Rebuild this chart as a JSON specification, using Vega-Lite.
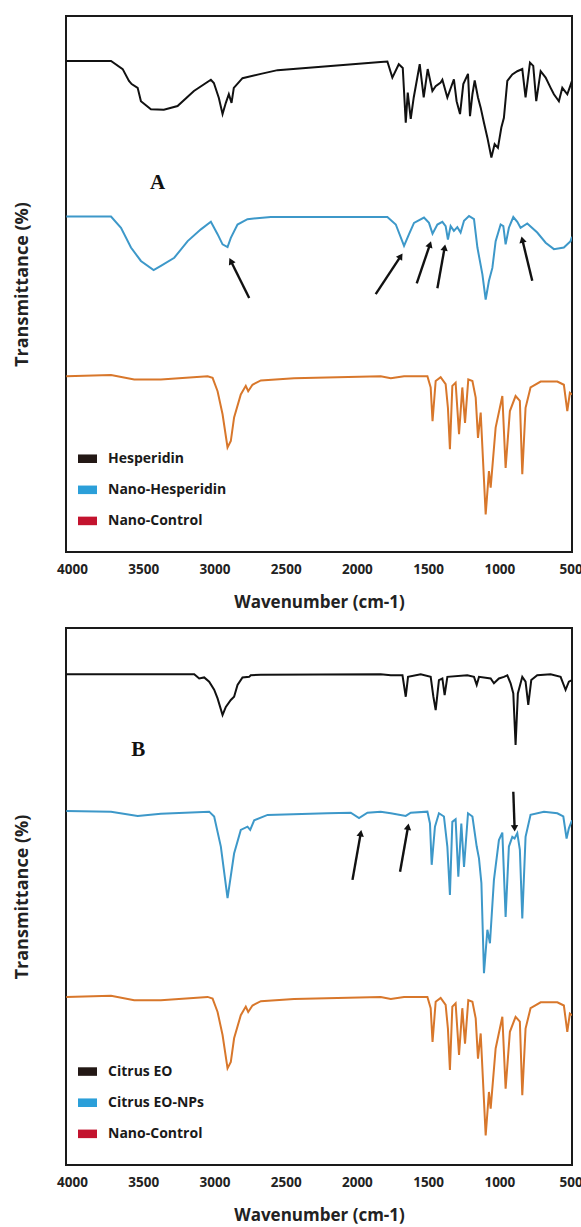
{
 "$schema": "https://vega.github.io/schema/vega-lite/v6.json",
 "padding": {"left": 12, "top": 15, "right": 8, "bottom": 0},
 "autosize": {"type": "pad"},
 "spacing": 15,
 "config": {
  "view": {"stroke": "#1a1a1a", "strokeWidth": 2},
  "font": "Open Sans",
  "axisX": {"labelFont": "Open Sans", "labelFontWeight": "bold", "labelFontSize": 13.5, "labelColor": "#222", "labelPadding": 10, "labelFlush": false, "labelOverlap": false, "ticks": false, "domain": false, "grid": false, "titleFont": "Open Sans", "titleFontWeight": "bold", "titleFontSize": 17, "titleColor": "#222", "titlePadding": 19},
  "axisY": {"labels": false, "ticks": false, "domain": false, "grid": false, "titleFont": "Open Sans", "titleFontWeight": "bold", "titleFontSize": 18, "titleColor": "#222", "titlePadding": 35}
 },
 "datasets": {
  "spectra": [
   {"panel":"A","series":"Hesperidin","w":4040,"t":91.6},{"panel":"A","series":"Hesperidin","w":3726,"t":91.6},{"panel":"A","series":"Hesperidin","w":3644,"t":90.1},{"panel":"A","series":"Hesperidin","w":3600,"t":87.9},{"panel":"A","series":"Hesperidin","w":3581,"t":87.3},{"panel":"A","series":"Hesperidin","w":3539,"t":86.6},{"panel":"A","series":"Hesperidin","w":3516,"t":84.1},{"panel":"A","series":"Hesperidin","w":3446,"t":82.6},{"panel":"A","series":"Hesperidin","w":3355,"t":82.5},{"panel":"A","series":"Hesperidin","w":3259,"t":83.2},{"panel":"A","series":"Hesperidin","w":3144,"t":86.0},{"panel":"A","series":"Hesperidin","w":3025,"t":88.1},{"panel":"A","series":"Hesperidin","w":3004,"t":87.5},{"panel":"A","series":"Hesperidin","w":2969,"t":84.7},{"panel":"A","series":"Hesperidin","w":2943,"t":81.7},{"panel":"A","series":"Hesperidin","w":2920,"t":83.8},{"panel":"A","series":"Hesperidin","w":2899,"t":85.4},{"panel":"A","series":"Hesperidin","w":2880,"t":83.8},{"panel":"A","series":"Hesperidin","w":2864,"t":86.6},{"panel":"A","series":"Hesperidin","w":2803,"t":88.4},{"panel":"A","series":"Hesperidin","w":2674,"t":89.2},{"panel":"A","series":"Hesperidin","w":2557,"t":89.9},{"panel":"A","series":"Hesperidin","w":1833,"t":91.4},{"panel":"A","series":"Hesperidin","w":1786,"t":91.5},{"panel":"A","series":"Hesperidin","w":1751,"t":88.5},{"panel":"A","series":"Hesperidin","w":1706,"t":91.0},{"panel":"A","series":"Hesperidin","w":1678,"t":90.3},{"panel":"A","series":"Hesperidin","w":1657,"t":80.1},{"panel":"A","series":"Hesperidin","w":1643,"t":85.7},{"panel":"A","series":"Hesperidin","w":1622,"t":80.8},{"panel":"A","series":"Hesperidin","w":1601,"t":84.8},{"panel":"A","series":"Hesperidin","w":1559,"t":91.0},{"panel":"A","series":"Hesperidin","w":1531,"t":84.8},{"panel":"A","series":"Hesperidin","w":1503,"t":90.1},{"panel":"A","series":"Hesperidin","w":1470,"t":86.0},{"panel":"A","series":"Hesperidin","w":1447,"t":86.9},{"panel":"A","series":"Hesperidin","w":1412,"t":87.6},{"panel":"A","series":"Hesperidin","w":1400,"t":88.1},{"panel":"A","series":"Hesperidin","w":1365,"t":84.8},{"panel":"A","series":"Hesperidin","w":1319,"t":88.2},{"panel":"A","series":"Hesperidin","w":1300,"t":84.1},{"panel":"A","series":"Hesperidin","w":1276,"t":81.7},{"panel":"A","series":"Hesperidin","w":1253,"t":87.3},{"panel":"A","series":"Hesperidin","w":1220,"t":89.2},{"panel":"A","series":"Hesperidin","w":1206,"t":81.3},{"panel":"A","series":"Hesperidin","w":1189,"t":85.4},{"panel":"A","series":"Hesperidin","w":1173,"t":88.0},{"panel":"A","series":"Hesperidin","w":1150,"t":84.8},{"panel":"A","series":"Hesperidin","w":1131,"t":82.9},{"panel":"A","series":"Hesperidin","w":1108,"t":80.1},{"panel":"A","series":"Hesperidin","w":1084,"t":77.3},{"panel":"A","series":"Hesperidin","w":1056,"t":73.6},{"panel":"A","series":"Hesperidin","w":1033,"t":76.1},{"panel":"A","series":"Hesperidin","w":1010,"t":75.4},{"panel":"A","series":"Hesperidin","w":986,"t":79.2},{"panel":"A","series":"Hesperidin","w":968,"t":81.0},{"panel":"A","series":"Hesperidin","w":944,"t":87.9},{"panel":"A","series":"Hesperidin","w":909,"t":89.1},{"panel":"A","series":"Hesperidin","w":874,"t":89.7},{"panel":"A","series":"Hesperidin","w":839,"t":90.1},{"panel":"A","series":"Hesperidin","w":816,"t":84.8},{"panel":"A","series":"Hesperidin","w":785,"t":91.3},{"panel":"A","series":"Hesperidin","w":762,"t":90.7},{"panel":"A","series":"Hesperidin","w":741,"t":84.1},{"panel":"A","series":"Hesperidin","w":710,"t":89.7},{"panel":"A","series":"Hesperidin","w":675,"t":88.5},{"panel":"A","series":"Hesperidin","w":640,"t":86.6},{"panel":"A","series":"Hesperidin","w":617,"t":85.4},{"panel":"A","series":"Hesperidin","w":582,"t":84.1},{"panel":"A","series":"Hesperidin","w":558,"t":86.6},{"panel":"A","series":"Hesperidin","w":523,"t":85.4},{"panel":"A","series":"Hesperidin","w":490,"t":87.9},

   {"panel":"A","series":"Nano-Hesperidin","w":4040,"t":62.6},{"panel":"A","series":"Nano-Hesperidin","w":3726,"t":62.6},{"panel":"A","series":"Nano-Hesperidin","w":3656,"t":60.5},{"panel":"A","series":"Nano-Hesperidin","w":3586,"t":56.8},{"panel":"A","series":"Nano-Hesperidin","w":3516,"t":54.3},{"panel":"A","series":"Nano-Hesperidin","w":3427,"t":52.6},{"panel":"A","series":"Nano-Hesperidin","w":3376,"t":53.4},{"panel":"A","series":"Nano-Hesperidin","w":3282,"t":54.9},{"panel":"A","series":"Nano-Hesperidin","w":3188,"t":58.0},{"panel":"A","series":"Nano-Hesperidin","w":3095,"t":60.2},{"panel":"A","series":"Nano-Hesperidin","w":3025,"t":61.6},{"panel":"A","series":"Nano-Hesperidin","w":2978,"t":59.3},{"panel":"A","series":"Nano-Hesperidin","w":2943,"t":57.4},{"panel":"A","series":"Nano-Hesperidin","w":2908,"t":56.9},{"panel":"A","series":"Nano-Hesperidin","w":2885,"t":58.6},{"panel":"A","series":"Nano-Hesperidin","w":2838,"t":61.1},{"panel":"A","series":"Nano-Hesperidin","w":2768,"t":62.1},{"panel":"A","series":"Nano-Hesperidin","w":2604,"t":62.5},{"panel":"A","series":"Nano-Hesperidin","w":1786,"t":62.5},{"panel":"A","series":"Nano-Hesperidin","w":1727,"t":61.1},{"panel":"A","series":"Nano-Hesperidin","w":1669,"t":57.1},{"panel":"A","series":"Nano-Hesperidin","w":1634,"t":59.3},{"panel":"A","series":"Nano-Hesperidin","w":1599,"t":61.4},{"panel":"A","series":"Nano-Hesperidin","w":1529,"t":62.4},{"panel":"A","series":"Nano-Hesperidin","w":1494,"t":61.4},{"panel":"A","series":"Nano-Hesperidin","w":1469,"t":59.4},{"panel":"A","series":"Nano-Hesperidin","w":1435,"t":61.1},{"panel":"A","series":"Nano-Hesperidin","w":1400,"t":61.6},{"panel":"A","series":"Nano-Hesperidin","w":1377,"t":60.8},{"panel":"A","series":"Nano-Hesperidin","w":1361,"t":58.3},{"panel":"A","series":"Nano-Hesperidin","w":1342,"t":60.8},{"panel":"A","series":"Nano-Hesperidin","w":1319,"t":59.9},{"panel":"A","series":"Nano-Hesperidin","w":1295,"t":60.6},{"panel":"A","series":"Nano-Hesperidin","w":1272,"t":59.6},{"panel":"A","series":"Nano-Hesperidin","w":1248,"t":61.8},{"panel":"A","series":"Nano-Hesperidin","w":1213,"t":62.7},{"panel":"A","series":"Nano-Hesperidin","w":1178,"t":62.1},{"panel":"A","series":"Nano-Hesperidin","w":1154,"t":56.8},{"panel":"A","series":"Nano-Hesperidin","w":1119,"t":51.8},{"panel":"A","series":"Nano-Hesperidin","w":1096,"t":47.1},{"panel":"A","series":"Nano-Hesperidin","w":1073,"t":50.6},{"panel":"A","series":"Nano-Hesperidin","w":1049,"t":53.0},{"panel":"A","series":"Nano-Hesperidin","w":1026,"t":58.0},{"panel":"A","series":"Nano-Hesperidin","w":991,"t":61.1},{"panel":"A","series":"Nano-Hesperidin","w":972,"t":60.8},{"panel":"A","series":"Nano-Hesperidin","w":956,"t":57.4},{"panel":"A","series":"Nano-Hesperidin","w":933,"t":60.5},{"panel":"A","series":"Nano-Hesperidin","w":902,"t":62.5},{"panel":"A","series":"Nano-Hesperidin","w":874,"t":61.6},{"panel":"A","series":"Nano-Hesperidin","w":851,"t":60.5},{"panel":"A","series":"Nano-Hesperidin","w":804,"t":61.3},{"panel":"A","series":"Nano-Hesperidin","w":734,"t":59.6},{"panel":"A","series":"Nano-Hesperidin","w":675,"t":57.7},{"panel":"A","series":"Nano-Hesperidin","w":617,"t":56.5},{"panel":"A","series":"Nano-Hesperidin","w":547,"t":56.8},{"panel":"A","series":"Nano-Hesperidin","w":500,"t":58.0},{"panel":"A","series":"Nano-Hesperidin","w":490,"t":58.8},

   {"panel":"A","series":"Nano-Control","w":4040,"t":32.8},{"panel":"A","series":"Nano-Control","w":3726,"t":33.0},{"panel":"A","series":"Nano-Control","w":3563,"t":32.2},{"panel":"A","series":"Nano-Control","w":3376,"t":32.2},{"panel":"A","series":"Nano-Control","w":3048,"t":32.8},{"panel":"A","series":"Nano-Control","w":3013,"t":32.5},{"panel":"A","series":"Nano-Control","w":2978,"t":30.0},{"panel":"A","series":"Nano-Control","w":2943,"t":25.7},{"panel":"A","series":"Nano-Control","w":2908,"t":19.5},{"panel":"A","series":"Nano-Control","w":2885,"t":20.7},{"panel":"A","series":"Nano-Control","w":2862,"t":25.1},{"panel":"A","series":"Nano-Control","w":2815,"t":29.4},{"panel":"A","series":"Nano-Control","w":2780,"t":31.0},{"panel":"A","series":"Nano-Control","w":2763,"t":30.0},{"panel":"A","series":"Nano-Control","w":2733,"t":31.2},{"panel":"A","series":"Nano-Control","w":2674,"t":32.0},{"panel":"A","series":"Nano-Control","w":2441,"t":32.4},{"panel":"A","series":"Nano-Control","w":1833,"t":32.8},{"panel":"A","series":"Nano-Control","w":1762,"t":32.4},{"panel":"A","series":"Nano-Control","w":1669,"t":32.8},{"panel":"A","series":"Nano-Control","w":1505,"t":32.8},{"panel":"A","series":"Nano-Control","w":1482,"t":30.7},{"panel":"A","series":"Nano-Control","w":1469,"t":24.4},{"panel":"A","series":"Nano-Control","w":1447,"t":31.9},{"panel":"A","series":"Nano-Control","w":1412,"t":32.6},{"panel":"A","series":"Nano-Control","w":1377,"t":31.3},{"panel":"A","series":"Nano-Control","w":1361,"t":26.9},{"panel":"A","series":"Nano-Control","w":1347,"t":19.2},{"panel":"A","series":"Nano-Control","w":1330,"t":31.0},{"panel":"A","series":"Nano-Control","w":1307,"t":31.6},{"panel":"A","series":"Nano-Control","w":1283,"t":22.0},{"panel":"A","series":"Nano-Control","w":1260,"t":30.7},{"panel":"A","series":"Nano-Control","w":1241,"t":24.1},{"panel":"A","series":"Nano-Control","w":1218,"t":32.2},{"panel":"A","series":"Nano-Control","w":1189,"t":31.9},{"panel":"A","series":"Nano-Control","w":1166,"t":28.8},{"panel":"A","series":"Nano-Control","w":1150,"t":21.3},{"panel":"A","series":"Nano-Control","w":1131,"t":26.0},{"panel":"A","series":"Nano-Control","w":1096,"t":7.0},{"panel":"A","series":"Nano-Control","w":1073,"t":15.1},{"panel":"A","series":"Nano-Control","w":1061,"t":12.0},{"panel":"A","series":"Nano-Control","w":1026,"t":23.2},{"panel":"A","series":"Nano-Control","w":979,"t":29.1},{"panel":"A","series":"Nano-Control","w":956,"t":15.7},{"panel":"A","series":"Nano-Control","w":926,"t":26.3},{"panel":"A","series":"Nano-Control","w":886,"t":29.1},{"panel":"A","series":"Nano-Control","w":856,"t":28.2},{"panel":"A","series":"Nano-Control","w":839,"t":14.5},{"panel":"A","series":"Nano-Control","w":816,"t":26.9},{"panel":"A","series":"Nano-Control","w":781,"t":30.7},{"panel":"A","series":"Nano-Control","w":710,"t":31.8},{"panel":"A","series":"Nano-Control","w":593,"t":31.8},{"panel":"A","series":"Nano-Control","w":547,"t":31.2},{"panel":"A","series":"Nano-Control","w":523,"t":26.3},{"panel":"A","series":"Nano-Control","w":505,"t":29.7},{"panel":"A","series":"Nano-Control","w":490,"t":29.4},

   {"panel":"B","series":"Citrus EO","w":4040,"t":91.4},{"panel":"B","series":"Citrus EO","w":3142,"t":91.4},{"panel":"B","series":"Citrus EO","w":3107,"t":90.6},{"panel":"B","series":"Citrus EO","w":3072,"t":90.8},{"panel":"B","series":"Citrus EO","w":3037,"t":90.0},{"panel":"B","series":"Citrus EO","w":3002,"t":88.5},{"panel":"B","series":"Citrus EO","w":2978,"t":86.9},{"panel":"B","series":"Citrus EO","w":2943,"t":83.8},{"panel":"B","series":"Citrus EO","w":2920,"t":85.3},{"panel":"B","series":"Citrus EO","w":2885,"t":86.6},{"panel":"B","series":"Citrus EO","w":2862,"t":87.2},{"panel":"B","series":"Citrus EO","w":2838,"t":89.4},{"panel":"B","series":"Citrus EO","w":2803,"t":90.8},{"panel":"B","series":"Citrus EO","w":2756,"t":90.9},{"panel":"B","series":"Citrus EO","w":2745,"t":91.2},{"panel":"B","series":"Citrus EO","w":2674,"t":91.3},{"panel":"B","series":"Citrus EO","w":1833,"t":91.4},{"panel":"B","series":"Citrus EO","w":1762,"t":91.2},{"panel":"B","series":"Citrus EO","w":1680,"t":91.2},{"panel":"B","series":"Citrus EO","w":1657,"t":87.2},{"panel":"B","series":"Citrus EO","w":1641,"t":90.9},{"panel":"B","series":"Citrus EO","w":1552,"t":91.4},{"panel":"B","series":"Citrus EO","w":1482,"t":90.9},{"panel":"B","series":"Citrus EO","w":1463,"t":87.2},{"panel":"B","series":"Citrus EO","w":1447,"t":84.7},{"panel":"B","series":"Citrus EO","w":1424,"t":90.3},{"panel":"B","series":"Citrus EO","w":1400,"t":90.6},{"panel":"B","series":"Citrus EO","w":1384,"t":87.5},{"panel":"B","series":"Citrus EO","w":1365,"t":90.9},{"panel":"B","series":"Citrus EO","w":1225,"t":91.2},{"panel":"B","series":"Citrus EO","w":1178,"t":90.9},{"panel":"B","series":"Citrus EO","w":1159,"t":89.4},{"panel":"B","series":"Citrus EO","w":1143,"t":90.9},{"panel":"B","series":"Citrus EO","w":1061,"t":90.6},{"panel":"B","series":"Citrus EO","w":1038,"t":89.7},{"panel":"B","series":"Citrus EO","w":1003,"t":90.6},{"panel":"B","series":"Citrus EO","w":968,"t":90.9},{"panel":"B","series":"Citrus EO","w":944,"t":91.2},{"panel":"B","series":"Citrus EO","w":921,"t":89.7},{"panel":"B","series":"Citrus EO","w":902,"t":87.8},{"panel":"B","series":"Citrus EO","w":886,"t":78.2},{"panel":"B","series":"Citrus EO","w":870,"t":87.8},{"panel":"B","series":"Citrus EO","w":839,"t":90.9},{"panel":"B","series":"Citrus EO","w":816,"t":90.0},{"panel":"B","series":"Citrus EO","w":797,"t":85.7},{"panel":"B","series":"Citrus EO","w":776,"t":90.3},{"panel":"B","series":"Citrus EO","w":734,"t":91.2},{"panel":"B","series":"Citrus EO","w":640,"t":91.4},{"panel":"B","series":"Citrus EO","w":570,"t":90.9},{"panel":"B","series":"Citrus EO","w":535,"t":88.5},{"panel":"B","series":"Citrus EO","w":512,"t":90.0},{"panel":"B","series":"Citrus EO","w":490,"t":90.3},

   {"panel":"B","series":"Citrus EO-NPs","w":4040,"t":65.9},{"panel":"B","series":"Citrus EO-NPs","w":3726,"t":65.8},{"panel":"B","series":"Citrus EO-NPs","w":3539,"t":65.0},{"panel":"B","series":"Citrus EO-NPs","w":3376,"t":65.4},{"panel":"B","series":"Citrus EO-NPs","w":3037,"t":65.8},{"panel":"B","series":"Citrus EO-NPs","w":3002,"t":64.9},{"panel":"B","series":"Citrus EO-NPs","w":2955,"t":59.3},{"panel":"B","series":"Citrus EO-NPs","w":2908,"t":49.7},{"panel":"B","series":"Citrus EO-NPs","w":2862,"t":58.0},{"panel":"B","series":"Citrus EO-NPs","w":2815,"t":62.4},{"panel":"B","series":"Citrus EO-NPs","w":2768,"t":63.0},{"panel":"B","series":"Citrus EO-NPs","w":2749,"t":62.4},{"panel":"B","series":"Citrus EO-NPs","w":2721,"t":64.2},{"panel":"B","series":"Citrus EO-NPs","w":2627,"t":65.2},{"panel":"B","series":"Citrus EO-NPs","w":2207,"t":65.5},{"panel":"B","series":"Citrus EO-NPs","w":2043,"t":65.6},{"panel":"B","series":"Citrus EO-NPs","w":1985,"t":64.6},{"panel":"B","series":"Citrus EO-NPs","w":1926,"t":65.6},{"panel":"B","series":"Citrus EO-NPs","w":1833,"t":65.8},{"panel":"B","series":"Citrus EO-NPs","w":1762,"t":65.5},{"panel":"B","series":"Citrus EO-NPs","w":1657,"t":65.0},{"panel":"B","series":"Citrus EO-NPs","w":1622,"t":65.6},{"panel":"B","series":"Citrus EO-NPs","w":1505,"t":65.8},{"panel":"B","series":"Citrus EO-NPs","w":1487,"t":63.6},{"panel":"B","series":"Citrus EO-NPs","w":1475,"t":55.9},{"panel":"B","series":"Citrus EO-NPs","w":1452,"t":63.0},{"panel":"B","series":"Citrus EO-NPs","w":1424,"t":65.5},{"panel":"B","series":"Citrus EO-NPs","w":1389,"t":64.9},{"panel":"B","series":"Citrus EO-NPs","w":1365,"t":59.3},{"panel":"B","series":"Citrus EO-NPs","w":1347,"t":50.3},{"panel":"B","series":"Citrus EO-NPs","w":1330,"t":63.9},{"panel":"B","series":"Citrus EO-NPs","w":1307,"t":64.4},{"panel":"B","series":"Citrus EO-NPs","w":1288,"t":53.7},{"panel":"B","series":"Citrus EO-NPs","w":1267,"t":63.6},{"panel":"B","series":"Citrus EO-NPs","w":1248,"t":55.5},{"panel":"B","series":"Citrus EO-NPs","w":1220,"t":65.5},{"panel":"B","series":"Citrus EO-NPs","w":1189,"t":64.9},{"panel":"B","series":"Citrus EO-NPs","w":1159,"t":59.3},{"panel":"B","series":"Citrus EO-NPs","w":1143,"t":57.1},{"panel":"B","series":"Citrus EO-NPs","w":1126,"t":52.5},{"panel":"B","series":"Citrus EO-NPs","w":1108,"t":35.7},{"panel":"B","series":"Citrus EO-NPs","w":1084,"t":43.8},{"panel":"B","series":"Citrus EO-NPs","w":1066,"t":41.3},{"panel":"B","series":"Citrus EO-NPs","w":1038,"t":53.1},{"panel":"B","series":"Citrus EO-NPs","w":1003,"t":60.5},{"panel":"B","series":"Citrus EO-NPs","w":979,"t":61.9},{"panel":"B","series":"Citrus EO-NPs","w":956,"t":46.2},{"panel":"B","series":"Citrus EO-NPs","w":933,"t":59.3},{"panel":"B","series":"Citrus EO-NPs","w":909,"t":61.1},{"panel":"B","series":"Citrus EO-NPs","w":893,"t":60.8},{"panel":"B","series":"Citrus EO-NPs","w":874,"t":61.8},{"panel":"B","series":"Citrus EO-NPs","w":856,"t":58.7},{"panel":"B","series":"Citrus EO-NPs","w":839,"t":45.9},{"panel":"B","series":"Citrus EO-NPs","w":816,"t":61.1},{"panel":"B","series":"Citrus EO-NPs","w":781,"t":65.2},{"panel":"B","series":"Citrus EO-NPs","w":687,"t":65.8},{"panel":"B","series":"Citrus EO-NPs","w":593,"t":65.5},{"panel":"B","series":"Citrus EO-NPs","w":551,"t":64.9},{"panel":"B","series":"Citrus EO-NPs","w":528,"t":60.8},{"panel":"B","series":"Citrus EO-NPs","w":512,"t":62.7},{"panel":"B","series":"Citrus EO-NPs","w":490,"t":64.2},

   {"panel":"B","series":"Nano-Control","w":4040,"t":31.3},{"panel":"B","series":"Nano-Control","w":3726,"t":31.5},{"panel":"B","series":"Nano-Control","w":3563,"t":30.7},{"panel":"B","series":"Nano-Control","w":3376,"t":30.7},{"panel":"B","series":"Nano-Control","w":3048,"t":31.3},{"panel":"B","series":"Nano-Control","w":3013,"t":31.0},{"panel":"B","series":"Nano-Control","w":2978,"t":28.5},{"panel":"B","series":"Nano-Control","w":2943,"t":24.2},{"panel":"B","series":"Nano-Control","w":2908,"t":18.0},{"panel":"B","series":"Nano-Control","w":2885,"t":19.2},{"panel":"B","series":"Nano-Control","w":2862,"t":23.6},{"panel":"B","series":"Nano-Control","w":2815,"t":27.9},{"panel":"B","series":"Nano-Control","w":2780,"t":29.5},{"panel":"B","series":"Nano-Control","w":2763,"t":28.5},{"panel":"B","series":"Nano-Control","w":2733,"t":29.7},{"panel":"B","series":"Nano-Control","w":2674,"t":30.5},{"panel":"B","series":"Nano-Control","w":2441,"t":30.9},{"panel":"B","series":"Nano-Control","w":1833,"t":31.3},{"panel":"B","series":"Nano-Control","w":1762,"t":30.9},{"panel":"B","series":"Nano-Control","w":1669,"t":31.3},{"panel":"B","series":"Nano-Control","w":1505,"t":31.3},{"panel":"B","series":"Nano-Control","w":1482,"t":29.2},{"panel":"B","series":"Nano-Control","w":1469,"t":22.9},{"panel":"B","series":"Nano-Control","w":1447,"t":30.4},{"panel":"B","series":"Nano-Control","w":1412,"t":31.1},{"panel":"B","series":"Nano-Control","w":1377,"t":29.8},{"panel":"B","series":"Nano-Control","w":1361,"t":25.4},{"panel":"B","series":"Nano-Control","w":1347,"t":17.7},{"panel":"B","series":"Nano-Control","w":1330,"t":29.5},{"panel":"B","series":"Nano-Control","w":1307,"t":30.1},{"panel":"B","series":"Nano-Control","w":1283,"t":20.5},{"panel":"B","series":"Nano-Control","w":1260,"t":29.2},{"panel":"B","series":"Nano-Control","w":1241,"t":22.6},{"panel":"B","series":"Nano-Control","w":1218,"t":30.7},{"panel":"B","series":"Nano-Control","w":1189,"t":30.4},{"panel":"B","series":"Nano-Control","w":1166,"t":27.3},{"panel":"B","series":"Nano-Control","w":1150,"t":19.8},{"panel":"B","series":"Nano-Control","w":1131,"t":24.5},{"panel":"B","series":"Nano-Control","w":1096,"t":5.5},{"panel":"B","series":"Nano-Control","w":1073,"t":13.6},{"panel":"B","series":"Nano-Control","w":1061,"t":10.5},{"panel":"B","series":"Nano-Control","w":1026,"t":21.7},{"panel":"B","series":"Nano-Control","w":979,"t":27.6},{"panel":"B","series":"Nano-Control","w":956,"t":14.2},{"panel":"B","series":"Nano-Control","w":926,"t":24.8},{"panel":"B","series":"Nano-Control","w":886,"t":27.6},{"panel":"B","series":"Nano-Control","w":856,"t":26.7},{"panel":"B","series":"Nano-Control","w":839,"t":13.0},{"panel":"B","series":"Nano-Control","w":816,"t":25.4},{"panel":"B","series":"Nano-Control","w":781,"t":29.2},{"panel":"B","series":"Nano-Control","w":710,"t":30.3},{"panel":"B","series":"Nano-Control","w":593,"t":30.3},{"panel":"B","series":"Nano-Control","w":547,"t":29.7},{"panel":"B","series":"Nano-Control","w":523,"t":24.8},{"panel":"B","series":"Nano-Control","w":505,"t":28.2},{"panel":"B","series":"Nano-Control","w":490,"t":27.9}
  ],
  "arrows": [
   {"panel":"A","w0":2756,"t0":47.4,"w1":2885,"t1":54.3,"angle":333.5},
   {"panel":"A","w0":1868,"t0":48.1,"w1":1692,"t1":55.2,"angle":33},
   {"panel":"A","w0":1580,"t0":50.1,"w1":1487,"t1":57.4,"angle":18.6},
   {"panel":"A","w0":1435,"t0":49.2,"w1":1384,"t1":56.8,"angle":10.2},
   {"panel":"A","w0":769,"t0":50.6,"w1":839,"t1":58.3,"angle":346.5},
   {"panel":"B","w0":2031,"t0":53.1,"w1":1973,"t1":61.8,"angle":10},
   {"panel":"B","w0":1697,"t0":54.6,"w1":1641,"t1":63.0,"angle":10},
   {"panel":"B","w0":902,"t0":69.5,"w1":893,"t1":62.7,"angle":178}
  ],
  "legend": [
   {"panel":"A","series":"Hesperidin","t":17.4},
   {"panel":"A","series":"Nano-Hesperidin","t":11.6},
   {"panel":"A","series":"Nano-Control","t":5.8},
   {"panel":"B","series":"Citrus EO","t":17.4},
   {"panel":"B","series":"Citrus EO-NPs","t":11.6},
   {"panel":"B","series":"Nano-Control","t":5.8}
  ],
  "letters": [
   {"panel":"A","label":"A","w":3399,"t":68.9},
   {"panel":"B","label":"B","w":3535,"t":77.2}
  ]
 },
 "vconcat": [
  {
   "width": 506, "height": 536,
   "layer": [
    {"data": {"name": "spectra"}, "transform": [{"filter": "datum.panel === 'A'"}],
     "mark": {"type": "line", "strokeWidth": 2, "clip": true},
     "encoding": {
      "x": {"field": "w", "type": "quantitative", "scale": {"domain": [490, 4042], "reverse": true, "nice": false, "zero": false}, "axis": {"title": "Wavenumber (cm-1)", "values": [4000, 3500, 3000, 2500, 2000, 1500, 1000, 500], "format": "d"}},
      "y": {"field": "t", "type": "quantitative", "scale": {"domain": [0, 100], "nice": false, "zero": false}, "axis": {"title": "Transmittance (%)"}},
      "color": {"field": "series", "type": "nominal", "scale": {"domain": ["Hesperidin","Nano-Hesperidin","Nano-Control","Citrus EO","Citrus EO-NPs"], "range": ["#111111","#3d98c9","#d8772b","#111111","#3d98c9"]}, "legend": null}
     }},
    {"data": {"name": "arrows"}, "transform": [{"filter": "datum.panel === 'A'"}],
     "mark": {"type": "rule", "strokeWidth": 2.4, "color": "#111111"},
     "encoding": {
      "x": {"field": "w0", "type": "quantitative", "title": "Wavenumber (cm-1)"},
      "y": {"field": "t0", "type": "quantitative", "title": "Transmittance (%)"},
      "x2": {"field": "w1"}, "y2": {"field": "t1"}
     }},
    {"data": {"name": "arrows"}, "transform": [{"filter": "datum.panel === 'A'"}],
     "mark": {"type": "point", "shape": "triangle-up", "filled": true, "size": 55, "color": "#111111", "opacity": 1},
     "encoding": {
      "x": {"field": "w1", "type": "quantitative", "title": "Wavenumber (cm-1)"},
      "y": {"field": "t1", "type": "quantitative", "title": "Transmittance (%)"},
      "angle": {"field": "angle", "type": "quantitative", "scale": null}
     }},
    {"data": {"name": "legend"}, "transform": [{"filter": "datum.panel === 'A'"}],
     "mark": {"type": "point", "shape": "M-1,-0.45L1,-0.45L1,0.45L-1,0.45Z", "filled": true, "size": 361, "opacity": 1, "strokeWidth": 0},
     "encoding": {
      "x": {"datum": 3891, "type": "quantitative"},
      "y": {"field": "t", "type": "quantitative", "title": "Transmittance (%)"},
      "fill": {"field": "series", "type": "nominal", "scale": {"domain": ["Hesperidin","Nano-Hesperidin","Nano-Control","Citrus EO","Citrus EO-NPs"], "range": ["#231815","#2b9fd9","#c3132e","#231815","#2b9fd9"]}, "legend": null}
     }},
    {"data": {"name": "legend"}, "transform": [{"filter": "datum.panel === 'A'"}],
     "mark": {"type": "text", "align": "left", "baseline": "middle", "font": "Open Sans", "fontWeight": "bold", "fontSize": 14, "color": "#1a1a1a"},
     "encoding": {
      "x": {"datum": 3747, "type": "quantitative"},
      "y": {"field": "t", "type": "quantitative", "title": "Transmittance (%)"},
      "text": {"field": "series"}
     }},
    {"data": {"name": "letters"}, "transform": [{"filter": "datum.panel === 'A'"}],
     "mark": {"type": "text", "align": "center", "baseline": "middle", "font": "Liberation Serif", "fontWeight": "bold", "fontSize": 21, "color": "#111111"},
     "encoding": {
      "x": {"field": "w", "type": "quantitative", "title": "Wavenumber (cm-1)"},
      "y": {"field": "t", "type": "quantitative", "title": "Transmittance (%)"},
      "text": {"field": "label"}
     }}
   ]
  },
  {
   "width": 506, "height": 537,
   "layer": [
    {"data": {"name": "spectra"}, "transform": [{"filter": "datum.panel === 'B'"}],
     "mark": {"type": "line", "strokeWidth": 2, "clip": true},
     "encoding": {
      "x": {"field": "w", "type": "quantitative", "scale": {"domain": [490, 4042], "reverse": true, "nice": false, "zero": false}, "axis": {"title": "Wavenumber (cm-1)", "values": [4000, 3500, 3000, 2500, 2000, 1500, 1000, 500], "format": "d"}},
      "y": {"field": "t", "type": "quantitative", "scale": {"domain": [0, 100], "nice": false, "zero": false}, "axis": {"title": "Transmittance (%)"}},
      "color": {"field": "series", "type": "nominal", "scale": {"domain": ["Hesperidin","Nano-Hesperidin","Nano-Control","Citrus EO","Citrus EO-NPs"], "range": ["#111111","#3d98c9","#d8772b","#111111","#3d98c9"]}, "legend": null}
     }},
    {"data": {"name": "arrows"}, "transform": [{"filter": "datum.panel === 'B'"}],
     "mark": {"type": "rule", "strokeWidth": 2.4, "color": "#111111"},
     "encoding": {
      "x": {"field": "w0", "type": "quantitative", "title": "Wavenumber (cm-1)"},
      "y": {"field": "t0", "type": "quantitative", "title": "Transmittance (%)"},
      "x2": {"field": "w1"}, "y2": {"field": "t1"}
     }},
    {"data": {"name": "arrows"}, "transform": [{"filter": "datum.panel === 'B'"}],
     "mark": {"type": "point", "shape": "triangle-up", "filled": true, "size": 55, "color": "#111111", "opacity": 1},
     "encoding": {
      "x": {"field": "w1", "type": "quantitative", "title": "Wavenumber (cm-1)"},
      "y": {"field": "t1", "type": "quantitative", "title": "Transmittance (%)"},
      "angle": {"field": "angle", "type": "quantitative", "scale": null}
     }},
    {"data": {"name": "legend"}, "transform": [{"filter": "datum.panel === 'B'"}],
     "mark": {"type": "point", "shape": "M-1,-0.45L1,-0.45L1,0.45L-1,0.45Z", "filled": true, "size": 361, "opacity": 1, "strokeWidth": 0},
     "encoding": {
      "x": {"datum": 3891, "type": "quantitative"},
      "y": {"field": "t", "type": "quantitative", "title": "Transmittance (%)"},
      "fill": {"field": "series", "type": "nominal", "scale": {"domain": ["Hesperidin","Nano-Hesperidin","Nano-Control","Citrus EO","Citrus EO-NPs"], "range": ["#231815","#2b9fd9","#c3132e","#231815","#2b9fd9"]}, "legend": null}
     }},
    {"data": {"name": "legend"}, "transform": [{"filter": "datum.panel === 'B'"}],
     "mark": {"type": "text", "align": "left", "baseline": "middle", "font": "Open Sans", "fontWeight": "bold", "fontSize": 14, "color": "#1a1a1a"},
     "encoding": {
      "x": {"datum": 3747, "type": "quantitative"},
      "y": {"field": "t", "type": "quantitative", "title": "Transmittance (%)"},
      "text": {"field": "series"}
     }},
    {"data": {"name": "letters"}, "transform": [{"filter": "datum.panel === 'B'"}],
     "mark": {"type": "text", "align": "center", "baseline": "middle", "font": "Liberation Serif", "fontWeight": "bold", "fontSize": 21, "color": "#111111"},
     "encoding": {
      "x": {"field": "w", "type": "quantitative", "title": "Wavenumber (cm-1)"},
      "y": {"field": "t", "type": "quantitative", "title": "Transmittance (%)"},
      "text": {"field": "label"}
     }}
   ]
  }
 ]
}
